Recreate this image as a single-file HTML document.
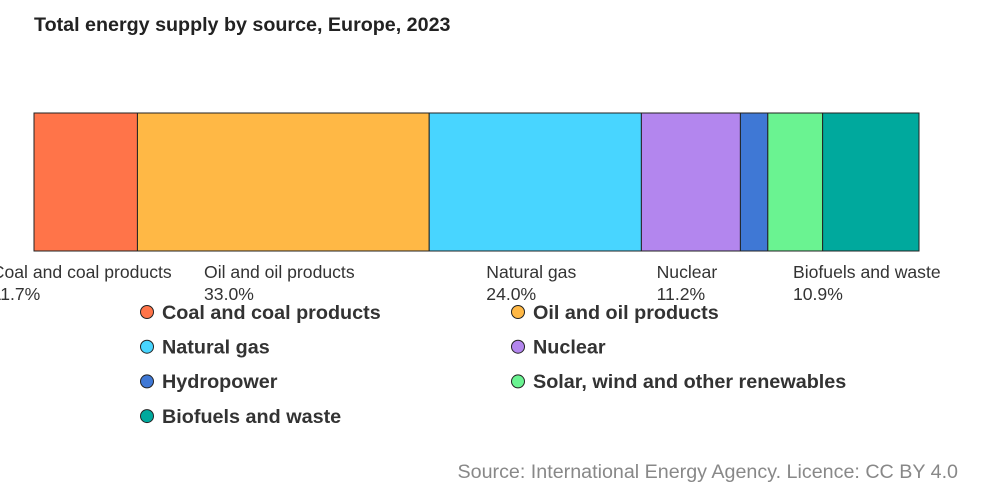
<!DOCTYPE html>
<html><head><meta charset="utf-8"><style>
body{margin:0;background:#fff;font-family:"Liberation Sans",Arial,sans-serif}
svg{display:block}
</style></head><body>
<svg id="chart" width="991" height="495">
<text x="34" y="31" font-size="19.7" font-weight="bold" fill="#222">Total energy supply by source, Europe, 2023</text>
<g id="bars"></g>
<g id="labels"></g>
<g id="legend"></g>
<text x="958" y="478" text-anchor="end" font-size="19.7" fill="#888">Source: International Energy Agency. Licence: CC BY 4.0</text>
</svg>
<script>
const categories=["Coal and coal products","Oil and oil products","Natural gas","Nuclear","Hydropower","Solar, wind and other renewables","Biofuels and waste"];
const values=[11.7,33.0,24.0,11.2,3.1,6.2,10.9];
const showLabel=[true,true,true,true,false,false,true];
const colors=["#FF7449","#FFB845","#48D5FF","#B386EE","#3F78D5","#6AF391","#00A99D"];
const NS="http://www.w3.org/2000/svg";
const x0=34,x1=919,y0=113,y1=251;
const total=values.reduce((a,b)=>a+b,0);
const xs=v=>x0+(x1-x0)*v/total;
const bars=document.getElementById('bars'),labels=document.getElementById('labels'),legend=document.getElementById('legend');
let cum=0;
values.forEach((v,i)=>{
  const a=xs(cum),b=xs(cum+v);cum+=v;
  const r=document.createElementNS(NS,'rect');
  r.setAttribute('x',a);r.setAttribute('y',y0);r.setAttribute('width',b-a);r.setAttribute('height',y1-y0);
  r.setAttribute('fill',colors[i]);r.setAttribute('stroke','#222');r.setAttribute('stroke-width','1');
  
  
  bars.appendChild(r);
  if(showLabel[i]){
    const t=document.createElementNS(NS,'text');
    t.setAttribute('y',278);t.setAttribute('font-size','17.6');t.setAttribute('fill','#333');
    t.textContent=categories[i];
    
    
    labels.appendChild(t);
    const w=t.getComputedTextLength();const lx=(a+b)/2-w/2-4;
    t.setAttribute('x',lx);
    const p=document.createElementNS(NS,'text');
    p.setAttribute('x',lx);p.setAttribute('y',300);p.setAttribute('font-size','17.6');p.setAttribute('fill','#333');
    p.textContent=values[i].toFixed(1)+'%';
    
    
    labels.appendChild(p);
  }
  const col=i%2,row=Math.floor(i/2);
  const cx=col?518:147,cy=312+row*34.7;
  const c=document.createElementNS(NS,'circle');
  c.setAttribute('cx',cx);c.setAttribute('cy',cy);c.setAttribute('r',6.5);
  c.setAttribute('fill',colors[i]);c.setAttribute('stroke','#222');c.setAttribute('stroke-width','1');
  
  
  legend.appendChild(c);
  const lt=document.createElementNS(NS,'text');
  lt.setAttribute('x',cx+15);lt.setAttribute('y',cy+6.8);lt.setAttribute('font-size','19.8');lt.setAttribute('font-weight','bold');lt.setAttribute('fill','#333');
  lt.textContent=categories[i];
  
  
  legend.appendChild(lt);
});
</script>
</body></html>
